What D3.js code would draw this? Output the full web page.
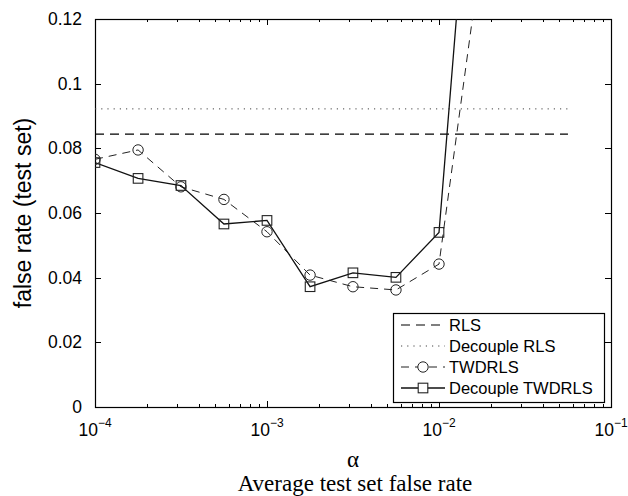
<!DOCTYPE html>
<html lang="en">
  <head>
    <meta charset="UTF-8" />
    <title>Average test set false rate</title>
    <script src="https://d3js.org/d3.v7.min.js"></script>
    <style>
      body { margin: 0; background: #fff; }
      .tick-label { font: 17.5px "Liberation Sans", Arial, sans-serif; }
      .legend-label { font: 16.5px "Liberation Sans", Arial, sans-serif; }
    </style>
  </head>
  <body>
    <div id="chart"></div>
    <script>
      // alpha grid (quarter decades) and false rates
      const alpha = [1e-4, 1.78e-4, 3.16e-4, 5.62e-4, 1e-3, 1.78e-3, 3.16e-3, 5.62e-3, 1e-2, 1.78e-2];
      const twdrls = [0.0766, 0.0795, 0.0681, 0.0642, 0.0542, 0.0408, 0.0372, 0.0362, 0.0442, 0.142];
      const decoupleTwdrls = [0.0756, 0.0707, 0.0685, 0.0566, 0.0577, 0.0372, 0.0415, 0.0401, 0.054, 0.218];
      const rlsAlpha = [1e-4, 5.62e-2];
      const rls = [0.0844, 0.0844];
      const decoupleRls = [0.0922, 0.0922];
      const yTicks = [0, 0.02, 0.04, 0.06, 0.08, 0.1, 0.12];
      const xTicks = [1e-4, 1e-3, 1e-2, 1e-1];
      const legendNames = ["RLS", "Decouple RLS", "TWDRLS", "Decouple TWDRLS"];

      const W = 628, H = 496;
      const pLeft = 95, pRight = 611, pTop = 19, pBottom = 407;

      const svg = d3.select("#chart").append("svg")
        .attr("width", W).attr("height", H);

      const x = d3.scaleLog().domain([1e-4, 1e-1]).range([pLeft, pRight]);
      const y = d3.scaleLinear().domain([0, 0.12]).range([pBottom, pTop]);

      svg.append("clipPath").attr("id", "clip")
        .append("rect")
        .attr("x", pLeft).attr("y", pTop)
        .attr("width", pRight - pLeft).attr("height", pBottom - pTop);

      // ticks (inward, on all four sides)
      const minor = [];
      [1e-4, 1e-3, 1e-2].forEach((d) => {
        for (let k = 2; k <= 9; k++) minor.push(d * k);
      });
      const tk = svg.append("g").attr("stroke", "#000").attr("stroke-width", 1);
      minor.forEach((v) => {
        const px = Math.round(x(v)) + 0.5;
        tk.append("line").attr("x1", px).attr("x2", px).attr("y1", pBottom).attr("y2", pBottom - 3);
        tk.append("line").attr("x1", px).attr("x2", px).attr("y1", pTop).attr("y2", pTop + 3);
      });
      xTicks.forEach((v) => {
        const px = Math.round(x(v)) + 0.5;
        tk.append("line").attr("x1", px).attr("x2", px).attr("y1", pBottom).attr("y2", pBottom - 6);
        tk.append("line").attr("x1", px).attr("x2", px).attr("y1", pTop).attr("y2", pTop + 6);
      });
      yTicks.forEach((v) => {
        const py = Math.round(y(v)) + 0.5;
        tk.append("line").attr("x1", pLeft).attr("x2", pLeft + 6).attr("y1", py).attr("y2", py);
        tk.append("line").attr("x1", pRight).attr("x2", pRight - 6).attr("y1", py).attr("y2", py);
      });

      // tick labels
      svg.selectAll("text.ylab").data(yTicks).enter().append("text")
        .attr("class", "tick-label")
        .attr("x", pLeft - 13)
        .attr("y", (d) => y(d))
        .attr("dy", "0.35em")
        .attr("text-anchor", "end")
        .text((d) => d3.format("")(d));

      const xl = svg.selectAll("text.xlab").data(xTicks).enter().append("text")
        .attr("class", "tick-label")
        .attr("x", (d) => x(d))
        .attr("y", 436)
        .attr("text-anchor", "middle");
      xl.append("tspan").text("10");
      xl.append("tspan")
        .attr("dy", -9)
        .style("font-size", "12px")
        .text((d) => "\u2212" + Math.round(-Math.log10(d)));

      // frame
      svg.append("rect")
        .attr("x", pLeft + 0.5).attr("y", pTop + 0.5)
        .attr("width", pRight - pLeft).attr("height", pBottom - pTop)
        .attr("fill", "none").attr("stroke", "#000").attr("stroke-width", 1.2);

      const plot = svg.append("g").attr("clip-path", "url(#clip)");
      const line = d3.line().x((d) => x(d[0])).y((d) => y(d[1]));

      plot.append("path")
        .datum(rlsAlpha.map((a, i) => [a, rls[i]]))
        .attr("d", line).attr("fill", "none")
        .attr("stroke", "#000").attr("stroke-width", 1.2)
        .attr("stroke-dasharray", "9,6");

      plot.append("path")
        .datum(rlsAlpha.map((a, i) => [a, decoupleRls[i]]))
        .attr("d", line).attr("fill", "none")
        .attr("stroke", "#444").attr("stroke-width", 1)
        .attr("stroke-dasharray", "1.2,5");

      const twData = alpha.map((a, i) => [a, twdrls[i]]);
      const decData = alpha.map((a, i) => [a, decoupleTwdrls[i]]);

      plot.append("path")
        .datum(twData)
        .attr("d", line).attr("fill", "none")
        .attr("stroke", "#222").attr("stroke-width", 1)
        .attr("stroke-dasharray", "8,6");

      plot.append("path")
        .datum(decData)
        .attr("d", line).attr("fill", "none")
        .attr("stroke", "#111").attr("stroke-width", 1.3);

      plot.selectAll("circle.tw").data(twData).enter().append("circle")
        .attr("cx", (d) => x(d[0])).attr("cy", (d) => y(d[1]))
        .attr("r", 5.2)
        .attr("fill", "none").attr("stroke", "#222").attr("stroke-width", 1);

      plot.selectAll("rect.dec").data(decData).enter().append("rect")
        .attr("x", (d) => x(d[0]) - 4.8).attr("y", (d) => y(d[1]) - 4.8)
        .attr("width", 9.6).attr("height", 9.6)
        .attr("fill", "none").attr("stroke", "#222").attr("stroke-width", 1.1);

      // legend
      const lg = svg.append("g");
      lg.append("rect")
        .attr("x", 393.5).attr("y", 313.5)
        .attr("width", 211).attr("height", 89)
        .attr("fill", "#fff").attr("stroke", "#000").attr("stroke-width", 1.2);
      const rowY = [325, 346, 367, 388];
      const styles = [
        { dash: "9,6", w: 1.2, c: "#000" },
        { dash: "1.2,5", w: 1, c: "#444" },
        { dash: "8,6", w: 1, c: "#222" },
        { dash: null, w: 1.3, c: "#111" },
      ];
      legendNames.forEach((name, i) => {
        lg.append("line")
          .attr("x1", 401).attr("x2", 445)
          .attr("y1", rowY[i]).attr("y2", rowY[i])
          .attr("stroke", styles[i].c).attr("stroke-width", styles[i].w)
          .attr("stroke-dasharray", styles[i].dash);
        lg.append("text")
          .attr("class", "legend-label")
          .attr("x", 449).attr("y", rowY[i])
          .attr("dy", "0.35em")
          .text(name);
      });
      lg.append("circle").attr("cx", 423).attr("cy", rowY[2]).attr("r", 5.2)
        .attr("fill", "#fff").attr("stroke", "#222");
      lg.append("rect").attr("x", 418.2).attr("y", rowY[3] - 4.8)
        .attr("width", 9.6).attr("height", 9.6)
        .attr("fill", "#fff").attr("stroke", "#222").attr("stroke-width", 1.1);

      // axis titles
      svg.append("text")
        .attr("transform", `translate(31,${(pTop + pBottom) / 2}) rotate(-90)`)
        .attr("text-anchor", "middle")
        .style("font", "23px 'Liberation Sans', Arial, sans-serif")
        .text("false rate (test set)");

      svg.append("text")
        .attr("x", 353).attr("y", 467)
        .attr("text-anchor", "middle")
        .style("font", "23px 'Liberation Serif', 'Times New Roman', serif")
        .text("\u03b1");

      svg.append("text")
        .attr("x", 355).attr("y", 491)
        .attr("text-anchor", "middle")
        .style("font", "23px 'Liberation Serif', 'Times New Roman', serif")
        .text("Average test set false rate");
    </script>
  </body>
</html>
